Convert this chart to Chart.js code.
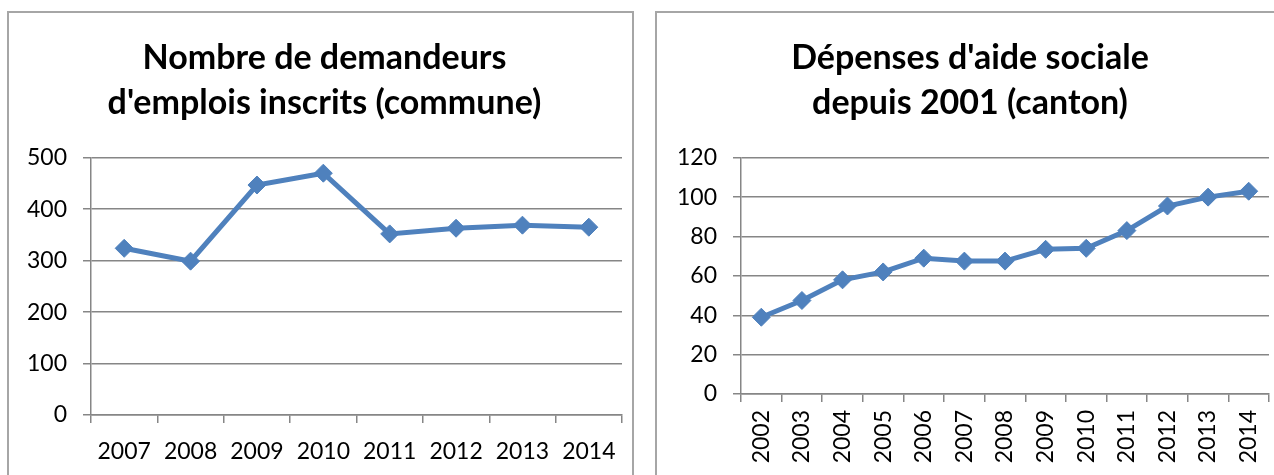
<!DOCTYPE html>
<html>
<head>
<meta charset="utf-8">
<script src="https://cdn.jsdelivr.net/npm/chart.js"></script>
<style>
  html, body { margin:0; padding:0; background:#fff; width:1274px; height:475px; overflow:hidden; position:relative; }
  .box { position:absolute; border:2px solid #a6a6a6; background:#fff; box-sizing:border-box; }
  #boxLeft  { left:7px;   top:11px; width:627px; height:480px; }
  #boxRight { left:655px; top:11px; width:640px; height:480px; }
  canvas { display:block; }
</style>
</head>
<body>
<div class="box" id="boxLeft"><canvas id="chartLeft" width="623" height="476"></canvas></div>
<div class="box" id="boxRight"><canvas id="chartRight" width="636" height="476"></canvas></div>
<script>
// ── DATA ──────────────────────────────────────
const yearsLeft   = ['2007','2008','2009','2010','2011','2012','2013','2014'];
const jobSeekers  = [324, 299, 447, 470, 352, 363, 369, 365];
const ticksLeft   = [0, 100, 200, 300, 400, 500];

const yearsRight  = ['2002','2003','2004','2005','2006','2007','2008','2009','2010','2011','2012','2013','2014'];
const aidSpending = [39, 47.5, 58, 62, 69, 67.5, 67.5, 73.5, 74, 83, 95.5, 100, 103];
const ticksRight  = [0, 20, 40, 60, 80, 100, 120];

const FONT = 'Lato, "Open Sans", sans-serif';
const BLUE = '#4f81bd';
const GRID = '#868686';

function makeChart(id, labels, values, yMax, yStep, o) {
  return new Chart(document.getElementById(id), {
    type: 'line',
    data: {
      labels,
      datasets: [{
        data: values,
        borderColor: BLUE,
        backgroundColor: BLUE,
        borderWidth: 5,
        pointStyle: 'rectRot',
        pointRadius: 9,
        pointBorderWidth: 1,
        tension: 0
      }]
    },
    options: {
      responsive: false,
      animation: false,
      events: [],
      layout: { padding: { left: o.padLeft, right: o.padRight, top: 0, bottom: 0 } },
      plugins: {
        legend: { display: false },
        tooltip: { enabled: false },
        title: {
          display: true,
          text: o.title,
          color: '#000',
          font: { family: FONT, size: 34, weight: 'bold', lineHeight: 1.32 },
          padding: { top: o.titleTop, bottom: o.titleBottom }
        }
      },
      scales: {
        x: {
          offset: true,
          grid: { display: true, offset: true, drawOnChartArea: false, drawTicks: true, tickLength: 8, color: GRID, lineWidth: 1.5 },
          border: { display: true, color: GRID, width: 1.5 },
          ticks: { color: '#000', font: { family: FONT, size: 23 }, maxRotation: o.rot, minRotation: o.rot, padding: o.xPad, autoSkip: false },
          afterFit: s => { s.height = o.xHeight; }
        },
        y: {
          min: 0, max: yMax,
          grid: { color: GRID, lineWidth: 1.5, tickLength: 8 },
          border: { display: true, color: GRID, width: 1.5 },
          ticks: { stepSize: yStep, color: '#000', font: { family: FONT, size: 23 }, padding: 16 },
          afterFit: s => { s.width = o.yWidth; }
        }
      }
    }
  });
}

makeChart('chartLeft', yearsLeft, jobSeekers, ticksLeft[ticksLeft.length-1], ticksLeft[1], {
  title: ['Nombre de demandeurs', "d'emplois inscrits (commune)"],
  padLeft: 16, padRight: 8, titleTop: 23, titleBottom: 32, yWidth: 66, xHeight: 74, rot: 0, xPad: 15
});

makeChart('chartRight', yearsRight, aidSpending, ticksRight[ticksRight.length-1], ticksRight[1], {
  title: ["Dépenses d'aide sociale", 'depuis 2001 (canton)'],
  padLeft: 14, padRight: 24, titleTop: 23, titleBottom: 32, yWidth: 70, xHeight: 95, rot: 90, xPad: 8
});
</script>
</body>
</html>
